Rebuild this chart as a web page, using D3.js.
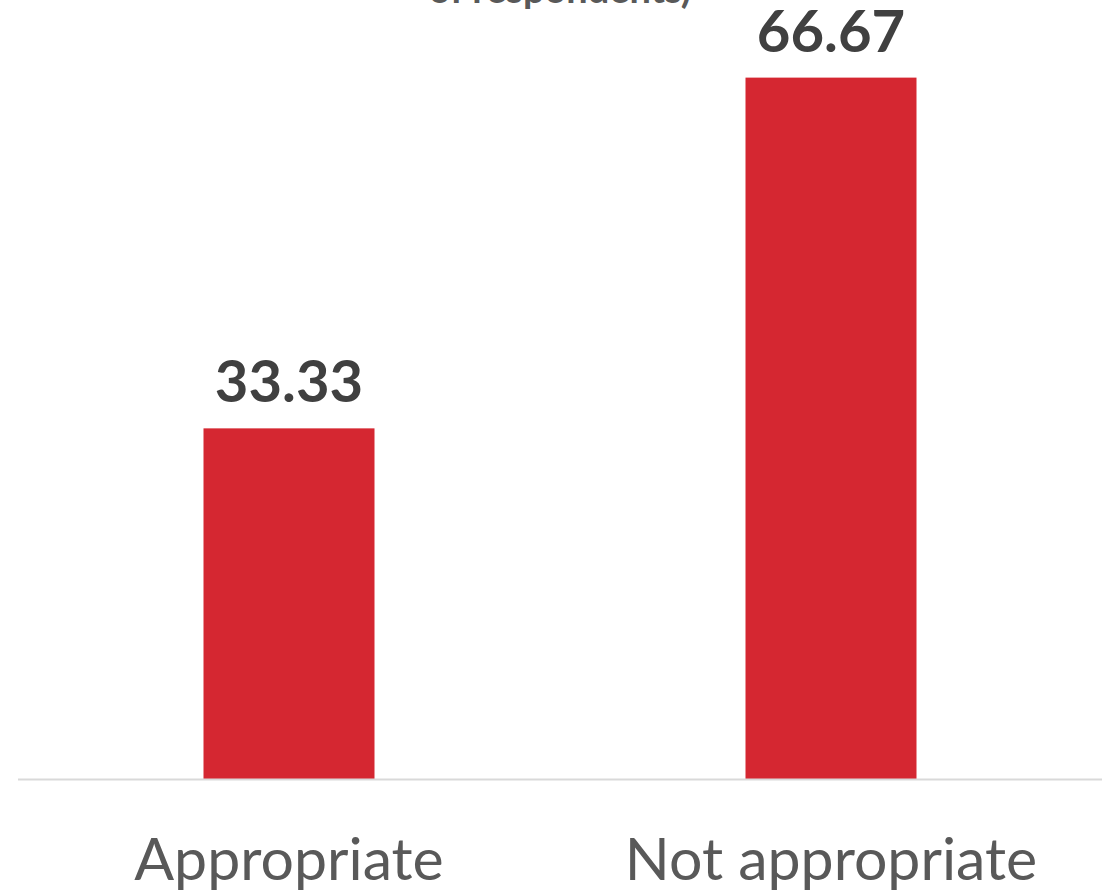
<!DOCTYPE html>
<html>
<head>
<meta charset="utf-8">
<script src="https://cdn.jsdelivr.net/npm/d3@7"></script>
<style>
  html, body { margin: 0; padding: 0; background: #fff; }
  svg { display: block; }
</style>
</head>
<body>
<script>
const categories = ["Appropriate", "Not appropriate"];
const values = [33.33, 66.67];
const titleText = "of respondents)";

const W = 1109, H = 893;
const svg = d3.select("body").append("svg").attr("width", W).attr("height", H);

const x = d3.scaleBand().domain(categories).range([18, 1102])
  .paddingInner(0.6845).paddingOuter(0.6845 / 2);
const y = d3.scaleLinear().domain([0, 74]).range([779, 0.5]);

const font = "Lato, 'Open Sans', sans-serif";

// title (partially cut off at top)
svg.append("text")
  .attr("x", 560).attr("y", 3)
  .attr("text-anchor", "middle")
  .attr("font-family", font).attr("font-weight", "bold")
  .attr("font-size", 38).attr("fill", "#595959")
  .text(titleText);

// bars
svg.selectAll("rect.bar").data(values).join("rect")
  .attr("class", "bar")
  .attr("x", (d, i) => x(categories[i]))
  .attr("width", x.bandwidth())
  .attr("y", d => y(d))
  .attr("height", d => y(0) - y(d))
  .attr("fill", "#d52731");

// axis line
svg.append("line")
  .attr("x1", 18).attr("x2", 1102)
  .attr("y1", y(0) + 0.5).attr("y2", y(0) + 0.5)
  .attr("stroke", "#d9d9d9").attr("stroke-width", 2);

// value labels
svg.selectAll("text.val").data(values).join("text")
  .attr("class", "val")
  .attr("x", (d, i) => x(categories[i]) + x.bandwidth() / 2)
  .attr("y", d => y(d) - 26)
  .attr("text-anchor", "middle")
  .attr("font-family", font).attr("font-weight", "bold")
  .attr("font-size", 58).attr("fill", "#404040")
  .text(d => d.toFixed(2));

// category labels
const xAxis = d3.axisBottom(x).tickSize(0).tickPadding(0);
const gx = svg.append("g").attr("transform", "translate(0,880)").call(xAxis);
gx.select(".domain").remove();
gx.selectAll("text")
  .attr("dy", 0)
  .attr("font-family", font)
  .attr("font-size", 59).attr("fill", "#595959");
</script>
</body>
</html>
